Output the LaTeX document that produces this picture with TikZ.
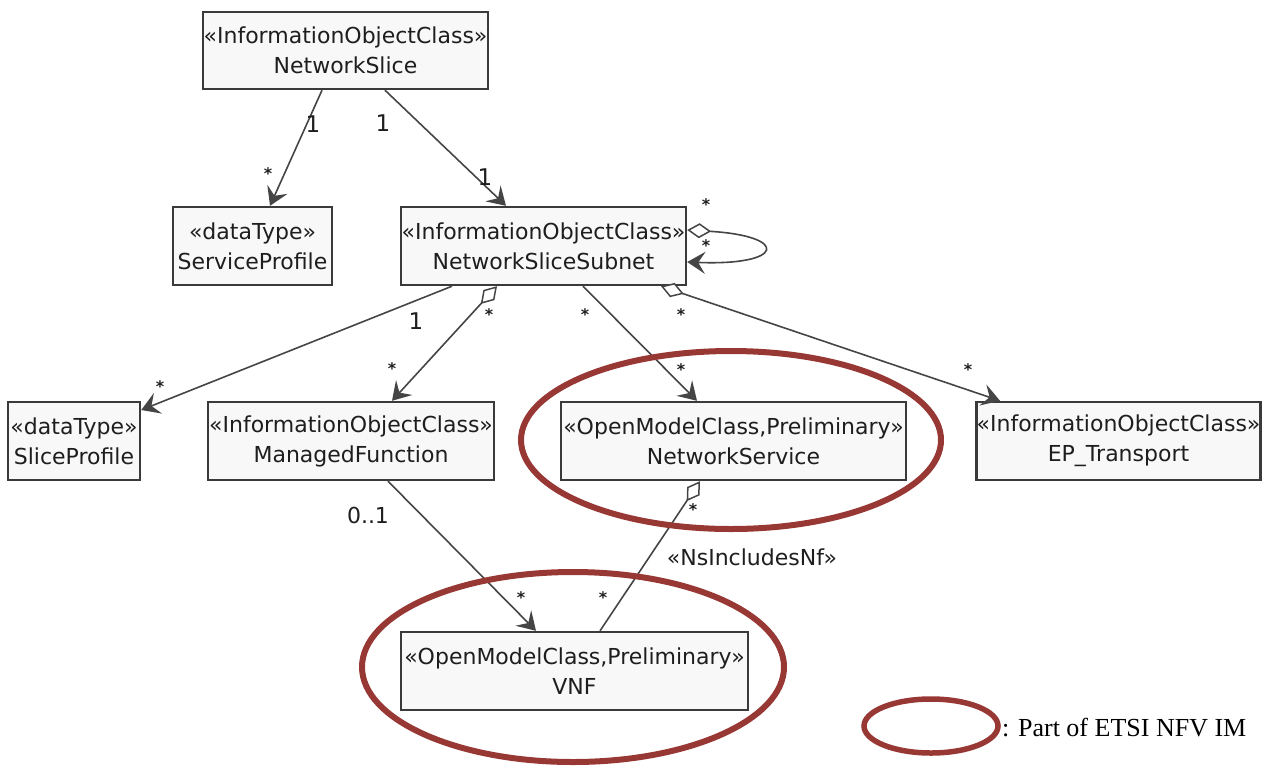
\documentclass[tikz,border=0pt]{standalone}
\usepackage{fontspec}
\setmainfont{DejaVu Sans}
\newfontfamily\legendfont{Liberation Serif}
\usetikzlibrary{arrows.meta,calc,shapes.geometric}
\definecolor{boxfill}{HTML}{F8F8F8}
\definecolor{boxline}{HTML}{3A3A3A}
\definecolor{conn}{HTML}{454545}
\definecolor{etsired}{HTML}{983834}
\definecolor{txt}{HTML}{1E1E1E}
\tikzset{
  umlbox/.style={draw=boxline, fill=boxfill, line width=2.4pt, rectangle, inner sep=0pt,
    align=center, text=txt, font=\fontsize{22}{30}\selectfont},
  assoc/.style={draw=conn, line width=1.6pt},
  navarrow/.style={-{Stealth[length=18pt,width=22pt,inset=7pt]}},
  aggr/.style={{Diamond[fill=white,length=24pt,width=15pt,line width=1.5pt]}-},
  aggrnav/.style={{Diamond[fill=white,length=24pt,width=15pt,line width=1.5pt]}-{Stealth[length=18pt,width=22pt,inset=7pt]}},
  mult/.style={text=txt, font=\fontsize{23}{26}\selectfont, inner sep=0pt},
  star/.style={text=txt, font=\bfseries\fontsize{16}{20}\selectfont, inner sep=0pt},
  etsi/.style={draw=etsired, line width=6pt, ellipse, inner sep=0pt}
}
\begin{document}
\begin{tikzpicture}[x=1pt,y=-1pt]
\useasboundingbox (0,0) rectangle (1265,769);

% boxes
\node[umlbox, minimum width=285, minimum height=77] (ns) at (345.5,50.5) {«InformationObjectClass»\\NetworkSlice};
\node[umlbox, minimum width=159, minimum height=78] (sp) at (252.5,246) {«dataType»\\ServiceProfile};
\node[umlbox, minimum width=285, minimum height=78] (nss) at (543.5,246) {«InformationObjectClass»\\NetworkSliceSubnet};
\node[umlbox, minimum width=132, minimum height=78] (slp) at (74,441) {«dataType»\\SliceProfile};
\node[umlbox, minimum width=286, minimum height=78] (mf) at (351,441) {«InformationObjectClass»\\ManagedFunction};
\node[umlbox, minimum width=345, minimum height=78] (nsv) at (733.5,441) {«OpenModelClass,Preliminary»\\NetworkService};
\node[umlbox, minimum width=283, minimum height=78] (ep) at (1118.5,441) {«InformationObjectClass»\\EP\_Transport};
\node[umlbox, minimum width=347, minimum height=78] (vnf) at (574.5,671) {«OpenModelClass,Preliminary»\\VNF};

% connectors
\draw[assoc, navarrow] ([xshift=-23.5pt]ns.south) -- ([xshift=17.5pt]sp.north);
\draw[assoc, navarrow] ([xshift=39.5pt]ns.south) -- ([xshift=-37.5pt]nss.north);
\coordinate (loopa) at (790,236);
\coordinate (loopb) at (785,266);
\draw[assoc, aggrnav] ([yshift=16pt]nss.east) .. controls (loopa) and (loopb) .. ([yshift=-16pt]nss.east);
\draw[assoc, navarrow] ([xshift=-91.5pt]nss.south) -- ([yshift=31pt]slp.east);
\draw[assoc, aggrnav] ([xshift=-46.5pt]nss.south) -- ([xshift=41pt]mf.north);
\draw[assoc, navarrow] ([xshift=39.5pt]nss.south) -- ([xshift=-36.5pt]nsv.north);
\draw[assoc, aggrnav] ([xshift=117.5pt]nss.south) -- ([xshift=-118.5pt]ep.north);
\draw[assoc, navarrow] ([xshift=37pt]mf.south) -- ([xshift=-38.5pt]vnf.north);
\draw[assoc, aggr] ([xshift=-33.5pt]nsv.south) -- ([xshift=25.5pt]vnf.north);

% multiplicities
\node[mult] (m1) at (313,124) {1};
\node[star] (m2) at (268,174) {*};
\node[mult] (m3) at (383,123) {1};
\node[mult] (m4) at (485,177) {1};
\node[star] (m5) at (706,205) {*};
\node[star] (m6) at (706,246) {*};
\node[mult] (m7) at (416,321) {1};
\node[star] (m8) at (160,387) {*};
\node[star] (m9) at (489,315) {*};
\node[star] (m10) at (392,369) {*};
\node[star] (m11) at (585,315) {*};
\node[star] (m12) at (681,370) {*};
\node[star] (m13) at (681,315) {*};
\node[star] (m14) at (968,370) {*};
\node[mult, font=\fontsize{22}{26}\selectfont] (m15) at (368,515) {0..1};
\node[star] (m16) at (521,598) {*};
\node[star] (m17) at (693,510) {*};
\node[star] (m18) at (603,598) {*};
\node[mult, font=\fontsize{22}{26}\selectfont] (stereo) at (752,557) {«NsIncludesNf»};

% ETSI highlight ellipses
\node[etsi, minimum width=420, minimum height=178] (e1) at (731,440) {};
\node[etsi, minimum width=422, minimum height=190] (e2) at (573,667) {};

% legend
\node[etsi, line width=5.5pt, minimum width=134, minimum height=54] (leg) at (931,726) {};
\node[anchor=base west, inner sep=0pt, font=\legendfont\fontsize{26}{30}\selectfont] (legtxt) at (1002,736) {: Part of ETSI NFV IM};
\end{tikzpicture}
\end{document}
